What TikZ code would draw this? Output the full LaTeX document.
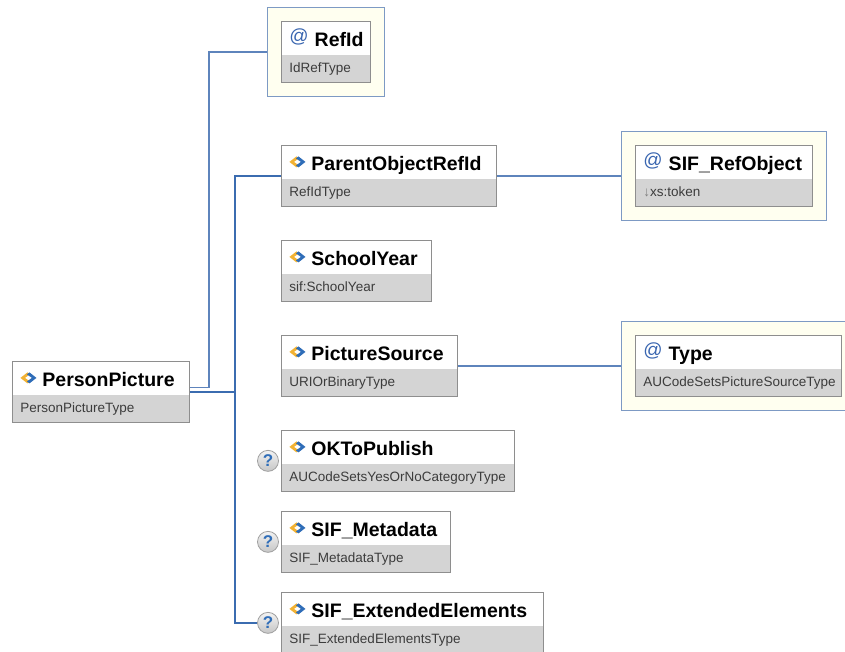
\documentclass[tikz,border=0pt]{standalone}
\usepackage{fontspec}
\setmainfont{Liberation Sans}
\usetikzlibrary{shapes.multipart,fit,backgrounds}
\definecolor{lnblue}{HTML}{3B6CB0}
\definecolor{atline}{HTML}{5E84BC}
\definecolor{frblue}{HTML}{7D9AC4}
\definecolor{frfill}{HTML}{FFFFF0}
\definecolor{boxgray}{HTML}{8E8E8E}
\definecolor{typgray}{HTML}{D4D4D4}
\definecolor{typtext}{HTML}{3C3C3C}
\definecolor{icblue}{HTML}{2F6DB8}
\definecolor{icyel}{HTML}{F2B233}
\definecolor{atblue}{HTML}{3A66B0}
\hyphenpenalty=10000
\exhyphenpenalty=10000
% small icons in the title row
\newcommand\elic{\tikz[baseline=-3pt,x=1pt,y=1pt]{%
  \fill[icyel] (0,6)--(7,0.5)--(9.5,2.5)--(4.5,6)--(9.5,9.5)--(7,11.5)--cycle;
  \fill[icblue] (16,6)--(9,11.5)--(6.5,9.5)--(11.5,6)--(6.5,2.5)--(9,0.5)--cycle;}}
\newcommand\atic{{\color{atblue}\fontsize{19}{19}\selectfont\raisebox{4pt}{@}}}
\newcommand\eltitle[2]{\mbox{#1\hspace{6pt}{\fontsize{19.5}{20}\selectfont\bfseries #2}}\rule[-8pt]{0pt}{33pt}}
\newcommand\eltype[1]{\mbox{\fontsize{13.5}{14}\selectfont\color{typtext}#1}\rule[-9pt]{0pt}{26pt}}
\tikzset{
  elem/.style={rectangle split,rectangle split parts=2,rectangle split draw splits=false,
               rectangle split part fill={white,typgray},draw=boxgray,line width=.9pt,
               inner xsep=8pt,inner ysep=0pt,align=left,anchor=north west,text width=#1pt},
  attfr/.style={draw=frblue,fill=frfill,line width=1.2pt,inner sep=13.5pt},
  opt/.style={circle,draw=gray!75,line width=.8pt,top color=gray!10,bottom color=gray!45,
              minimum size=21pt,inner sep=0pt,font=\fontsize{17}{17}\selectfont\bfseries,
              text=icblue},
  econ/.style={draw=lnblue,line width=1.4pt},
  acon/.style={draw=atline,line width=1.4pt},
}
\begin{document}
\begin{tikzpicture}[x=1pt,y=-1pt]
  \useasboundingbox (0,0) rectangle (845,652);
  \node[elem=161] (pp) at (12,361) {\eltitle{\elic}{PersonPicture}\nodepart{two}\eltype{PersonPictureType}};
  \node[elem=73] (refid) at (281,21) {\eltitle{\atic}{RefId}\nodepart{two}\eltype{IdRefType}};
  \node[elem=199] (porid) at (281,145) {\eltitle{\elic}{ParentObjectRefId}\nodepart{two}\eltype{RefIdType}};
  \node[elem=161] (sifro) at (635,145) {\eltitle{\atic}{SIF\_RefObject}\nodepart{two}\eltype{\textcolor{gray}{↓}xs:token}};
  \node[elem=134] (sy) at (281,240) {\eltitle{\elic}{SchoolYear}\nodepart{two}\eltype{sif:SchoolYear}};
  \node[elem=160] (ps) at (281,335) {\eltitle{\elic}{PictureSource}\nodepart{two}\eltype{URIOrBinaryType}};
  \node[elem=190] (typ) at (635,335) {\eltitle{\atic}{Type}\nodepart{two}\eltype{AUCodeSetsPictureSourceType}};
  \node[elem=217] (okp) at (281,430) {\eltitle{\elic}{OKToPublish}\nodepart{two}\eltype{AUCodeSetsYesOrNoCategoryType}};
  \node[elem=153] (sifm) at (281,511) {\eltitle{\elic}{SIF\_Metadata}\nodepart{two}\eltype{SIF\_MetadataType}};
  \node[elem=246] (sife) at (281,592) {\eltitle{\elic}{SIF\_ExtendedElements}\nodepart{two}\eltype{SIF\_ExtendedElementsType}};
  \node[opt] (q1) at ([xshift=-13pt]okp.west) {?};
  \node[opt] (q2) at ([xshift=-13pt]sifm.west) {?};
  \node[opt] (q3) at ([xshift=-13pt]sife.west) {?};
  \begin{scope}[on background layer]
    \node[attfr,fit=(refid)] (refidfr) {};
    \node[attfr,fit=(sifro)] (sifrofr) {};
    \node[attfr,fit=(typ)] (typfr) {};
  \end{scope}
  \draw[acon] ([yshift=4.5pt]pp.east) -- ++(19,0) |- (refidfr.west);
  \draw[econ] (pp.east) -- ++(45,0) coordinate (seq);
  \draw[econ] (porid.west) -| (seq) |- (q3.west);
  \draw[acon] (porid.east) -- (porid.east -| sifrofr.west);
  \draw[acon] (ps.east) -- (ps.east -| typfr.west);
\end{tikzpicture}
\end{document}
